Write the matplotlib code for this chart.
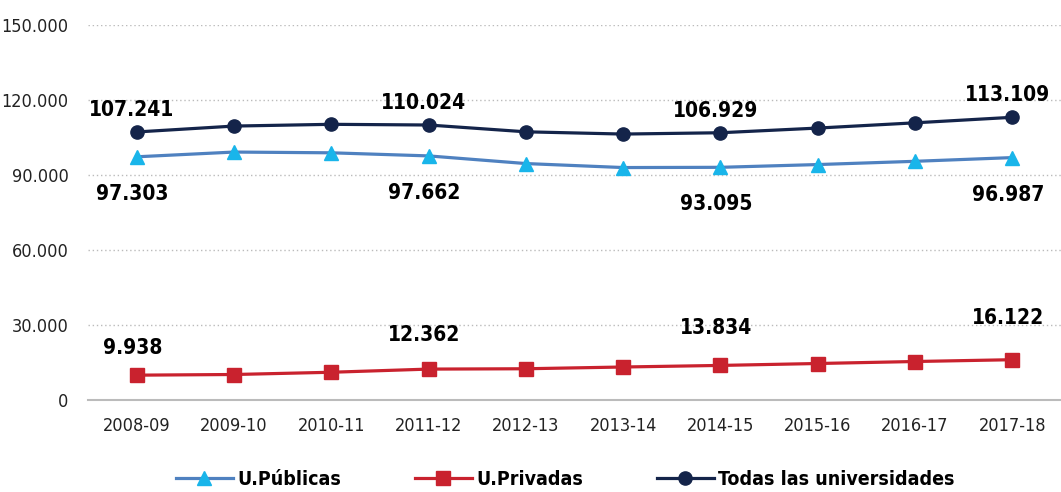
import numpy as np
import matplotlib.pyplot as plt
from matplotlib.ticker import FuncFormatter

# Datos
cursos = ['2008-09', '2009-10', '2010-11', '2011-12', '2012-13',
          '2013-14', '2014-15', '2015-16', '2016-17', '2017-18']
publicas = [97303, 99200, 98900, 97662, 94600, 93000, 93095, 94200, 95500, 96987]
privadas = [9938, 10200, 11100, 12362, 12500, 13200, 13834, 14600, 15400, 16122]
todas = [107241, 109600, 110300, 110024, 107300, 106400, 106929, 108800, 110900, 113109]
etiquetas_idx = [0, 3, 6, 9]

plt.rcParams['font.family'] = ['DejaVu Sans']
plt.rcParams['font.stretch'] = 'condensed'

c_pub_line = '#4f81c0'
c_pub_mark = '#19b5ea'
c_priv = '#c9222e'
c_todas = '#14244a'

fig = plt.figure(figsize=(10.61, 4.92), dpi=100)
ax = fig.add_axes([0.083, 0.187, 0.917, 0.762])

x = np.arange(len(cursos))
ax.plot(x, publicas, color=c_pub_line, lw=2.3, marker='^', ms=10,
        mfc=c_pub_mark, mec=c_pub_mark, label='U.Públicas', zorder=3)
ax.plot(x, privadas, color=c_priv, lw=2.3, marker='s', ms=9.5,
        mfc=c_priv, mec=c_priv, label='U.Privadas', zorder=3)
ax.plot(x, todas, color=c_todas, lw=2.3, marker='o', ms=9.5,
        mfc=c_todas, mec=c_todas, label='Todas las universidades', zorder=3)

fmt = lambda v: f'{v:,.0f}'.replace(',', '.')

# etiquetas de valor
off_priv = [27, 34, 37, 42]
for k, i in enumerate(etiquetas_idx):
    ax.annotate(fmt(todas[i]), (x[i], todas[i]), xytext=(-5, 22),
                textcoords='offset pixels', ha='center', va='center',
                fontsize=15, fontweight='bold', color='black')
    ax.annotate(fmt(publicas[i]), (x[i], publicas[i]), xytext=(-4, -37),
                textcoords='offset pixels', ha='center', va='center',
                fontsize=15, fontweight='bold', color='black')
    ax.annotate(fmt(privadas[i]), (x[i], privadas[i]), xytext=(-4, off_priv[k]),
                textcoords='offset pixels', ha='center', va='center',
                fontsize=15, fontweight='bold', color='black')

ax.set_xlim(-0.5, 9.5)
ax.set_ylim(0, 150000)
ax.set_yticks(np.arange(0, 150001, 30000))
ax.yaxis.set_major_formatter(FuncFormatter(lambda v, p: fmt(v)))
ax.set_xticks(x)
ax.set_xticklabels(cursos)
ax.tick_params(axis='both', length=0, labelsize=13, colors='#222222')
ax.tick_params(axis='x', pad=12)
ax.tick_params(axis='y', pad=14)

ax.grid(axis='y', color='#bbbbbb', ls=(0, (1, 2)), lw=1)
ax.set_axisbelow(True)
for s in ['top', 'right', 'left']:
    ax.spines[s].set_visible(False)
ax.spines['bottom'].set_color('#bbbbbb')
ax.spines['bottom'].set_linewidth(1.5)

leg = fig.legend(loc='lower center', ncol=3, frameon=False,
                 bbox_to_anchor=(0.533, -0.03), prop={'size': 14, 'weight': 'bold'},
                 handlelength=2.9, columnspacing=3.8, handletextpad=0.25)

fig.savefig('out.png', dpi=100)
